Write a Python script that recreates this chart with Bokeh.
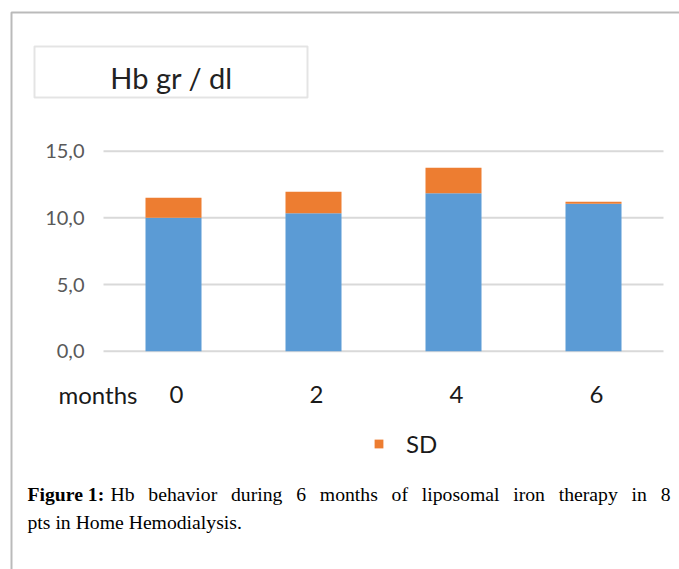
from bokeh.plotting import figure
from bokeh.models import (ColumnDataSource, Range1d, Label, BoxAnnotation, Legend, LegendItem)
from bokeh.core.properties import value
from bokeh.embed import file_html
from bokeh.resources import INLINE

# ---- data ----
months = ["0", "2", "4", "6"]
hb_mean = [10.0, 10.35, 11.85, 11.05]
hb_sd = [1.5, 1.6, 1.9, 0.15]
y_ticks = [0, 5, 10, 15]

# ---- style / layout ----
BLUE = "#5b9bd5"
ORANGE = "#ed7d31"
FONT = "Lato"
CAP_FONT = "Liberation Serif"
W, H = 679, 569
CAT_PX = 140.0          # pixels per category
FIRST_CENTER_PX = 173.0
UNIT_PX = 13.333        # pixels per Hb unit
ZERO_PX = 350.7         # y pixel (from top) of the 0 gridline

idx = list(range(len(months)))
src = ColumnDataSource(dict(x=idx, mean=hb_mean, sd=hb_sd))

p = figure(width=W, height=H, output_backend="svg", toolbar_location=None, title=None,
           x_range=Range1d(-FIRST_CENTER_PX / CAT_PX, (W - FIRST_CENTER_PX) / CAT_PX),
           y_range=Range1d(-(H - ZERO_PX) / UNIT_PX, ZERO_PX / UNIT_PX),
           x_axis_location=None, y_axis_location=None,
           min_border=0)
p.outline_line_color = None
p.grid.visible = False
p.background_fill_color = "white"
p.border_fill_color = "white"

# gridlines across the category band
n = len(months)
p.segment(x0=[-0.5] * len(y_ticks), x1=[n - 0.5] * len(y_ticks), y0=y_ticks, y1=y_ticks,
          line_color="#d9d9d9", line_width=2)

# stacked bars
rs = p.vbar_stack(["mean", "sd"], x="x", width=0.4, color=[BLUE, ORANGE],
                  line_color=None, source=src)

# y tick labels
ylab = ColumnDataSource(dict(x=[-0.5] * len(y_ticks), y=y_ticks,
                             t=[f"{v:.1f}".replace(".", ",") for v in y_ticks]))
p.text(x="x", y="y", text="t", source=ylab, x_offset=-19, text_align="right",
       text_baseline="middle", text_font=value(FONT), text_font_size="20px",
       text_color="#595959")

# x category labels
xlab = ColumnDataSource(dict(x=idx, y=[0] * n, t=months))
p.text(x="x", y="y", text="t", source=xlab, x_offset=3, y_offset=43.5, text_align="center",
       text_baseline="middle", text_font=value(FONT), text_font_size="24px",
       text_color="#1a1a1a")

# "months" label
p.add_layout(Label(x=58, y=H - 394, x_units="screen", y_units="screen", text="months",
                   text_font=FONT, text_font_size="24px", text_color="#1a1a1a",
                   text_baseline="middle"))

# title box
p.add_layout(BoxAnnotation(left=34, right=307, top=H - 46, bottom=H - 97,
                           left_units="screen", right_units="screen",
                           top_units="screen", bottom_units="screen",
                           fill_alpha=0, line_color="#a6a6a6", line_width=2))
p.add_layout(Label(x=171, y=H - 77, x_units="screen", y_units="screen", text="Hb gr / dl",
                   text_font=FONT, text_font_size="29px", text_color="#222222",
                   text_align="center", text_baseline="middle"))

# outer border (extends past the right and bottom edges)
p.add_layout(BoxAnnotation(left=11, right=W + 50, top=H - 12, bottom=-50,
                           left_units="screen", right_units="screen",
                           top_units="screen", bottom_units="screen",
                           fill_alpha=0, line_color="#1a1a1a", line_width=2))

# legend (SD only)
legend = Legend(items=[LegendItem(label="SD", renderers=[rs[1]])], location=(373, 111),
                padding=0, margin=0, glyph_width=11, glyph_height=11, label_standoff=22,
                label_text_font=FONT, label_text_font_size="24px", label_text_color="#1a1a1a",
                border_line_color=None, background_fill_alpha=0)
p.add_layout(legend, "center")

# caption (justified first line: widened spaces)
sp = "\u2002\u2009"
line1 = "Hb behavior during 6 months of liposomal iron therapy in 8"
CAP_SIZE = "19.7px"
p.add_layout(Label(x=27, y=H - 493, x_units="screen", y_units="screen", text="Figure 1:",
                   text_font=CAP_FONT, text_font_style="bold", text_font_size=CAP_SIZE,
                   text_color="#000000", text_baseline="alphabetic"))
p.add_layout(Label(x=110, y=H - 493, x_units="screen", y_units="screen",
                   text=line1.replace(" ", sp),
                   text_font=CAP_FONT, text_font_size=CAP_SIZE,
                   text_color="#000000", text_baseline="alphabetic"))
p.add_layout(Label(x=27, y=H - 521, x_units="screen", y_units="screen",
                   text="pts in Home Hemodialysis.",
                   text_font=CAP_FONT, text_font_size=CAP_SIZE,
                   text_color="#000000", text_baseline="alphabetic"))

open("out.html", "w").write(file_html(p, INLINE))
